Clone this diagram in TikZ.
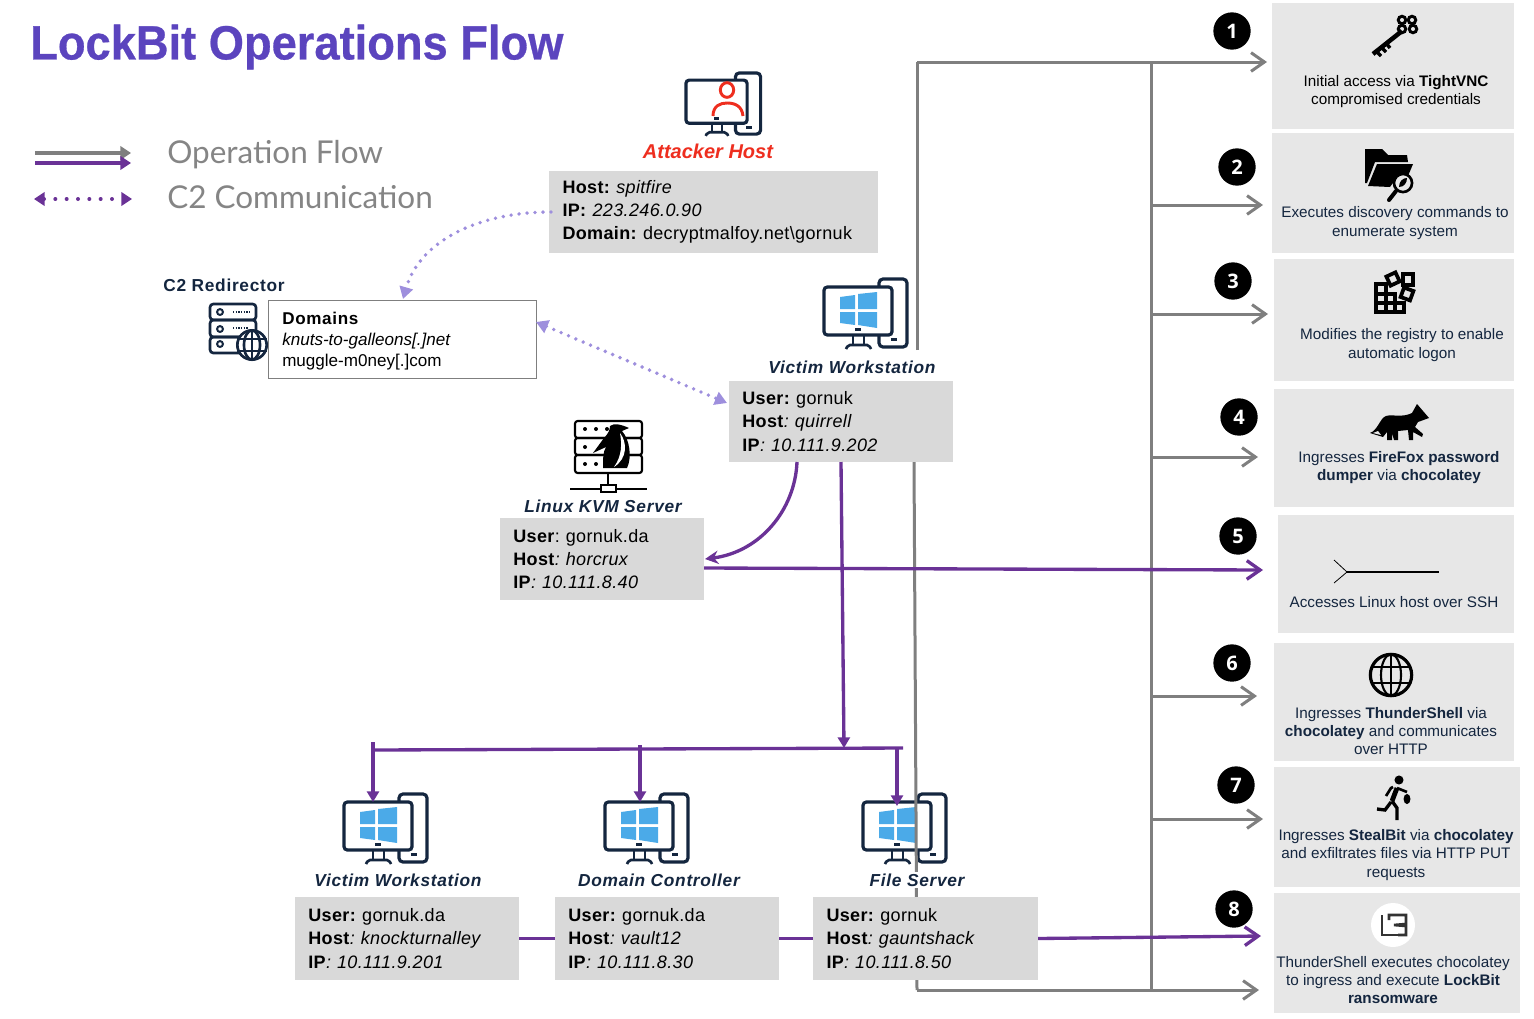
\documentclass[tikz,border=0pt]{standalone}
\usepackage{fontspec}
\usepackage{tikz}
\usetikzlibrary{arrows.meta}
\usetikzlibrary{positioning}
\setmainfont{Liberation Sans}
\newfontfamily\legendfont{Lato}
\newfontfamily\numfont{Open Sans}
\newfontfamily\infofont[LetterSpace=2]{Liberation Sans}
\newfontfamily\labelfont[LetterSpace=4]{Liberation Sans}
\newfontfamily\titlefont[BoldFeatures={FakeStretch=0.943,FakeBold=0.6}]{Liberation Sans}
\AtBeginDocument{\frenchspacing}
\definecolor{titleblue}{HTML}{5B44BE}
\definecolor{navy}{HTML}{14263F}
\definecolor{flowgray}{HTML}{7F7F7F}
\definecolor{flowpurple}{HTML}{6A3296}
\definecolor{lavender}{HTML}{9E8FDD}
\definecolor{boxgray}{HTML}{D9D9D9}
\definecolor{panelgray}{HTML}{E7E7E7}
\definecolor{winblue}{HTML}{4BAAE8}
\definecolor{hostred}{HTML}{EE2E1F}
\definecolor{legendgray}{HTML}{858585}
\tikzset{
  pcicon/.pic={
    \draw[navy, line width=2.4pt, rounded corners=3pt] (56,9) -- (56,1) -- (84,1) -- (84,69) -- (56,69) -- (56,58);
    \draw[navy, line width=2.4pt, rounded corners=2.5pt] (1,9) rectangle (69,57);
    \draw[navy, line width=2pt] (30,57) -- (30,66);
    \draw[navy, line width=2pt] (41,57) -- (41,66);
    \draw[navy, line width=2pt, rounded corners=1.5pt] (23,71) -- (25,67) -- (46,67) -- (48,71);
    \fill[navy] (32,50) rectangle (38,53);
    \fill[navy] (68,60) rectangle (74,63);
  },
  winlogo/.pic={
    \fill[winblue] (17,19) -- (32,17) -- (32,31) -- (17,31) -- cycle;
    \fill[winblue] (35,16) -- (54,14) -- (54,31) -- (35,31) -- cycle;
    \fill[winblue] (17,34) -- (32,34) -- (32,47) -- (17,45) -- cycle;
    \fill[winblue] (35,34) -- (54,34) -- (54,50) -- (35,47) -- cycle;
  }
}
\begin{document}
\begin{tikzpicture}[x=0.75pt, y=-0.75pt,
  hostlabel/.style={font=\labelfont\bfseries\itshape\fontsize{13pt}{15pt}\selectfont, text=navy, fill=white, inner sep=1pt},
  infobox/.style={fill=boxgray, align=left, inner xsep=10pt, inner ysep=0pt, font=\infofont\fontsize{13.5pt}{17.3pt}\selectfont},
  panel/.style={fill=panelgray, inner sep=0pt},
  paneltext/.style={align=center, inner sep=0pt, text=navy, font=\fontsize{11.45pt}{13.6pt}\selectfont},
  stepnum/.style={circle, fill=black, text=white, minimum size=28pt, inner sep=0pt, font=\numfont\bfseries\fontsize{15pt}{15pt}\selectfont},
  graylink/.style={draw=flowgray, line width=2.25pt},
  grayarrow/.style={graylink, -{Straight Barb[length=10pt,width=14pt]}},
  purplelink/.style={draw=flowpurple, line width=2.5pt},
  purplearrow/.style={purplelink, -{Straight Barb[length=10pt,width=14pt]}},
  purpledown/.style={purplelink, -{Triangle[length=8pt,width=9pt]}},
  dotlink/.style={draw=lavender, line width=2.9pt, line cap=round, dash pattern=on 0pt off 6pt},
  iconline/.style={draw=navy, line width=2pt}]
\useasboundingbox (0,0) rectangle (1534,1018);

\node[anchor=west, inner sep=0pt, text=titleblue, font=\titlefont\bfseries\fontsize{36pt}{40pt}\selectfont] (Title) at (30,47) {LockBit Operations Flow};

\coordinate (LegendGrayL) at (35,153);
\coordinate (LegendGrayR) at (131,153);
\coordinate (LegendPurpleL) at (35,163);
\coordinate (LegendPurpleR) at (131,163);
\coordinate (LegendDotL) at (34,199);
\coordinate (LegendDotR) at (132,199);
\draw[draw=flowgray, line width=3pt, -{Triangle[length=8pt,width=10pt]}] (LegendGrayL) -- (LegendGrayR);
\draw[draw=flowpurple, line width=3pt, -{Triangle[length=8pt,width=10pt]}] (LegendPurpleL) -- (LegendPurpleR);
\draw[draw=flowpurple, line width=3pt, line cap=round, dash pattern=on 0pt off 8.5pt, {Triangle[length=8pt,width=10pt]}-{Triangle[length=8pt,width=10pt]}] (LegendDotL) -- (LegendDotR);
\node[anchor=west, inner sep=0pt, text=legendgray, font=\legendfont\fontsize{23.6pt}{28pt}\selectfont] (LegendFlow) at (167,155) {Operation Flow};
\node[anchor=west, inner sep=0pt, text=legendgray, font=\legendfont\fontsize{23.6pt}{28pt}\selectfont] (LegendC2) at (167,197) {C2 Communication};

\node[panel, minimum width=181.5pt, minimum height=94.5pt] (Panel1) at (1393,66) {};
\node[panel, minimum width=181.5pt, minimum height=90pt] (Panel2) at (1393,193) {};
\node[panel, minimum width=180pt, minimum height=91.5pt] (Panel3) at (1394,320) {};
\node[panel, minimum width=180pt, minimum height=88.5pt] (Panel4) at (1394,448) {};
\node[panel, minimum width=177pt, minimum height=88.5pt] (Panel5) at (1396,574) {};
\node[panel, minimum width=180pt, minimum height=88.5pt] (Panel6) at (1394,702) {};
\node[panel, minimum width=184.5pt, minimum height=90pt] (Panel7) at (1397,827) {};
\node[panel, minimum width=184.5pt, minimum height=90pt] (Panel8) at (1397,953) {};

\pic (PcAttacker) [scale=0.9] at (685,72) {pcicon};
\draw[hostred, line width=2.2pt] (727,90) ellipse (5pt and 5.5pt);
\draw[hostred, line width=2.2pt] (713,116) .. controls (713,106) and (720,103) .. (727,103) .. controls (735,103) and (742,106) .. (743,116);
\pic (PcVictim) at (823,278) {pcicon};
\pic (LogoVictim) at (823,278) {winlogo};
\pic (PcVictimB) at (343,793) {pcicon};
\pic (LogoVictimB) at (343,793) {winlogo};
\pic (PcController) at (604,793) {pcicon};
\pic (LogoController) at (604,793) {winlogo};
\pic (PcFile) at (862,793) {pcicon};
\pic (LogoFile) at (862,793) {winlogo};

\draw[iconline, rounded corners=2.5pt] (210,304) rectangle (256,320);
\draw[iconline, rounded corners=2.5pt] (210,320) rectangle (256,337);
\draw[iconline, rounded corners=2.5pt] (210,337) rectangle (256,353);
\draw[navy, line width=1.5pt] (220,312) circle (2.2pt);
\draw[navy, line width=1.5pt] (220,329) circle (2.2pt);
\draw[navy, line width=1.5pt] (220,344) circle (2.2pt);
\draw[navy, line width=1.1pt, dash pattern=on 1pt off 1pt] (233,312) -- (251,312);
\draw[navy, line width=1.1pt, dash pattern=on 1pt off 1pt] (233,328) -- (249,328);
\draw[iconline, fill=white] (252,345) circle (11pt);
\draw[iconline] (252,345) ellipse (6pt and 11pt);
\draw[iconline] (252,330) -- (252,360);
\draw[iconline] (237,339) -- (267,339);
\draw[iconline] (237,351) -- (267,351);

\draw[draw=black, line width=1.6pt, rounded corners=2pt] (575,421) rectangle (642,438);
\draw[draw=black, line width=1.6pt, rounded corners=2pt] (575,438) rectangle (642,455);
\draw[draw=black, line width=1.6pt, rounded corners=2pt] (575,455) rectangle (642,473);
\fill[black] (585,429) circle (1.5pt);
\fill[black] (596,429) circle (1.5pt);
\fill[black] (607,429) circle (1.5pt);
\fill[black] (585,447) circle (1.5pt);
\fill[black] (585,464) circle (1.5pt);
\fill[black] (596,464) circle (1.5pt);
\draw[draw=black, line width=1.6pt] (608,473) -- (608,484);
\draw[draw=black, line width=1.6pt] (570,489) -- (647,489);
\draw[draw=black, line width=1.6pt, fill=white] (601,485) rectangle (616,492);
\fill[black] (610,426) .. controls (614,423) and (620,424) .. (629,428) -- (622,431) .. controls (630,440) and (632,458) .. (627,468) -- (603,468) .. controls (603,458) and (603,452) .. (606,447) -- (593,453) -- (604,438) .. controls (608,434) and (610,430) .. (610,426) -- cycle;
\fill[white] (620,433) .. controls (627,442) and (628,458) .. (614,467) .. controls (622,456) and (622,444) .. (620,433) -- cycle;

\fill[black] (1402,20) circle (4pt);
\fill[black] (1412,20) circle (4pt);
\fill[black] (1402,29) circle (4pt);
\fill[black] (1413,29) circle (4pt);
\fill[panelgray] (1402,20) circle (1.5pt);
\fill[panelgray] (1412,20) circle (1.5pt);
\fill[panelgray] (1402,29) circle (1.5pt);
\fill[panelgray] (1413,29) circle (1.5pt);
\draw[draw=black, line width=3.4pt] (1402,31) -- (1373,54);
\draw[draw=black, line width=2.6pt] (1376,51) -- (1381,56);
\draw[draw=black, line width=2.6pt] (1381,47) -- (1386,52);
\draw[draw=black, line width=2.6pt] (1386,43) -- (1390,48);

\fill[black] (1365,149) -- (1382,149) -- (1388,155) -- (1407,155) -- (1408,162) -- (1375,162) -- (1367,183) -- (1365,183) -- cycle;
\fill[black] (1377,164) -- (1413,164) -- (1408,176) -- (1395,180) -- (1390,187) -- (1368,186) -- cycle;
\draw[draw=black, line width=2pt, fill=panelgray] (1403,183) circle (6.8pt);
\fill[black] (1399,187) .. controls (1399,181) and (1403,178) .. (1407,178) .. controls (1407,183) and (1404,187) .. (1399,187) -- cycle;
\draw[draw=black, line width=3pt, line cap=round] (1396,191) -- (1389,200);

\draw[draw=black, line width=2.8pt] (1376,284) rectangle (1386,294);
\draw[draw=black, line width=2.8pt] (1376,294) rectangle (1386,303);
\draw[draw=black, line width=2.8pt] (1386,294) rectangle (1395,303);
\draw[draw=black, line width=2.8pt] (1376,303) rectangle (1386,312);
\draw[draw=black, line width=2.8pt] (1386,303) rectangle (1395,312);
\draw[draw=black, line width=2.8pt] (1395,303) rectangle (1404,312);
\draw[draw=black, line width=2.8pt, rotate around={25:(1393,279)}] (1388,274) rectangle (1398,284);
\draw[draw=black, line width=2.8pt] (1403,274) rectangle (1413,285);
\draw[draw=black, line width=2.8pt, rotate around={-20:(1407,294)}] (1402,289) rectangle (1412,299);

\fill[black] (1429,418) -- (1417,404) -- (1412,413) .. controls (1402,418) and (1392,414) .. (1386,416) .. controls (1380,418) and (1378,430) .. (1370,433) -- (1383,437) -- (1387,432) -- (1387,440) -- (1392,440) -- (1392,433) -- (1394,440) -- (1398,440) -- (1398,431) -- (1408,430) -- (1409,440) -- (1413,440) -- (1413,432) -- (1422,437) -- (1423,434) -- (1415,427) -- (1418,422) -- cycle;
\fill[panelgray] (1373,433) -- (1381,435) -- (1378,431) -- cycle;

\draw[draw=black, line width=0.6pt] (1334,560) -- (1347,572) -- (1334,583);
\draw[draw=black, line width=1.3pt] (1347,572) -- (1439,572);

\draw[draw=black, line width=2.4pt] (1391,675) circle (15.5pt);
\draw[draw=black, line width=1.6pt] (1391,675) ellipse (7.5pt and 15.5pt);
\draw[draw=black, line width=1.6pt] (1391,654) -- (1391,696);
\draw[draw=black, line width=1.6pt] (1372,667) -- (1410,667);
\draw[draw=black, line width=1.6pt] (1372,683) -- (1410,683);

\fill[black] (1399,780) circle (3.4pt);
\draw[draw=black, line width=3.6pt] (1397,788) -- (1392,801);
\draw[draw=black, line width=2pt] (1397,788) -- (1407,792);
\draw[draw=black, line width=2pt] (1393,787) -- (1391,788) -- (1386,796);
\draw[draw=black, line width=2.5pt] (1392,801) -- (1397,808) -- (1397,820);
\draw[draw=black, line width=2.5pt] (1391,802) -- (1385,810) -- (1377,809);
\fill[black] (1407,799) ellipse (2.6pt and 3.8pt);

\fill[white] (1393,925) circle (16.5pt);
\draw[draw=black!80, line width=2pt] (1382,915) -- (1382,935) -- (1398,935);
\draw[draw=black!80, line width=2pt] (1389,920) -- (1389,915) -- (1406,915) -- (1406,924) -- (1394,925) -- (1406,926) -- (1406,935) -- (1398,935);

\node[paneltext, text=black] (Text1) at (1396,91.5) {Initial access via \textbf{TightVNC}\\compromised credentials};
\node[paneltext] (Text2) at (1395,223) {Executes discovery commands to\\enumerate system};
\node[paneltext] (Text3) at (1402,345) {Modifies the registry to enable\\automatic logon};
\node[paneltext] (Text4) at (1399,467.5) {Ingresses \textbf{FireFox password}\\\textbf{dumper} via \textbf{chocolatey}};
\node[paneltext] (Text5) at (1394,602) {Accesses Linux host over SSH};
\node[paneltext] (Text6) at (1391,731) {Ingresses \textbf{ThunderShell} via\\\textbf{chocolatey} and communicates\\over HTTP};
\node[paneltext] (Text7) at (1396,855) {Ingresses \textbf{StealBit} via \textbf{chocolatey}\\and exfiltrates files via HTTP PUT\\requests};
\node[paneltext] (Text8) at (1393,980) {ThunderShell executes chocolatey\\to ingress and execute \textbf{LockBit}\\\textbf{ransomware}};

\node[stepnum] (Step1) at (1232,31) {1};
\node[stepnum] (Step2) at (1237,167) {2};
\node[stepnum] (Step3) at (1233,281) {3};
\node[stepnum] (Step4) at (1239,417) {4};
\node[stepnum] (Step5) at (1238,536) {5};
\node[stepnum] (Step6) at (1232,663) {6};
\node[stepnum] (Step7) at (1236,785) {7};
\node[stepnum] (Step8) at (1234,909) {8};

\coordinate (GrayTop) at (917,62);
\coordinate (GrayTopEnd) at (917,350);
\coordinate (GrayLowStart) at (914,462);
\coordinate (GrayBottom) at (917,990);
\coordinate (TrunkTop) at (1151,62);
\coordinate (TrunkBottom) at (1151,990);
\coordinate (Tip1) at (1267,62);
\coordinate (Tip2) at (1263,205);
\coordinate (Tip3) at (1268,314);
\coordinate (Tip4) at (1258,457);
\coordinate (Tip5) at (1263,570);
\coordinate (Tip6) at (1257,696);
\coordinate (Tip7) at (1263,819);
\coordinate (Tip8) at (1261,936);
\coordinate (TipEnd) at (1259,990);
\draw[graylink] (GrayTopEnd) -- (GrayTop);
\draw[grayarrow] (GrayTop) -- (Tip1);
\draw[graylink] (GrayLowStart) -- (GrayBottom);
\draw[grayarrow] (GrayBottom) -- (TipEnd);
\draw[graylink] (TrunkTop) -- (TrunkBottom);
\draw[grayarrow] (TrunkTop |- Tip2) -- (Tip2);
\draw[grayarrow] (TrunkTop |- Tip3) -- (Tip3);
\draw[grayarrow] (TrunkTop |- Tip4) -- (Tip4);
\draw[grayarrow] (TrunkTop |- Tip6) -- (Tip6);
\draw[grayarrow] (TrunkTop |- Tip7) -- (Tip7);

\node[hostlabel, text=hostred, font=\bfseries\itshape\fontsize{15pt}{17pt}\selectfont] (LabelAttacker) at (708,151) {Attacker Host};
\node[hostlabel] (LabelVictim) at (852,367) {Victim Workstation};
\node[hostlabel] (LabelLinux) at (603,506) {Linux KVM Server};
\node[hostlabel] (LabelVictimB) at (398,880) {Victim Workstation};
\node[hostlabel] (LabelController) at (659,880) {Domain Controller};
\node[hostlabel] (LabelFile) at (917,880) {File Server};
\node[inner sep=1pt, text=navy, font=\labelfont\bfseries\fontsize{13pt}{15pt}\selectfont] (LabelRedirector) at (224,285) {C2 Redirector};

\node[infobox, text width=226.5pt, minimum height=61.5pt] (AttackerBox) at (713.5,212) {\raisebox{0pt}{\textbf{Host:} \textit{spitfire}}\\\textbf{IP:} \textit{223.246.0.90}\\\textbf{Domain:} decryptmalfoy.net\textbackslash gornuk};
\node[infobox, text width=148pt, minimum height=61pt] (VictimBox) at (841,421.5) {\textbf{User:} gornuk\\\textbf{Host}\textit{: quirrell}\\\textbf{IP}\textit{: 10.111.9.202}};
\node[infobox, text width=133pt, minimum height=61.5pt] (LinuxBox) at (602,559) {\textbf{User}: gornuk.da\\\textbf{Host}\textit{: horcrux}\\\textbf{IP}\textit{: 10.111.8.40}};
\node[infobox, text width=148pt, minimum height=62pt] (VictimBoxB) at (407,938.5) {\textbf{User:} gornuk.da\\\textbf{Host}\textit{: knockturnalley}\\\textbf{IP}\textit{: 10.111.9.201}};
\node[infobox, text width=148pt, minimum height=62pt] (ControllerBox) at (667,938.5) {\textbf{User:} gornuk.da\\\textbf{Host}\textit{: vault12}\\\textbf{IP}\textit{: 10.111.8.30}};
\node[infobox, text width=148.5pt, minimum height=62pt] (FileBox) at (925.5,938.5) {\textbf{User:} gornuk\\\textbf{Host}\textit{: gauntshack}\\\textbf{IP}\textit{: 10.111.8.50}};
\node[draw=flowgray, line width=0.6pt, fill=white, inner sep=0pt, minimum width=201pt, minimum height=59pt] (DomainBox) at (402,339.5) {};
\node[align=left, inner sep=0pt, anchor=west, font=\fontsize{12.8pt}{16pt}\selectfont] (DomainText) at (282,341) {{\labelfont\bfseries Domains}\\\textit{knuts-to-galleons[.]net}\\muggle-m0ney[.]com};

\coordinate (VictimCurve) at (797,462);
\coordinate (LinuxCurve) at (705,559);
\coordinate (LinuxOut) at (704,568);
\coordinate (VictimDown) at (841,462);
\coordinate (BusDrop) at (844,748);
\coordinate (BusLeft) at (373,750);
\coordinate (BusRight) at (903,748);
\coordinate (DropLeftTop) at (373,742);
\coordinate (DropLeft) at (373,802);
\coordinate (DropMidTop) at (640,745);
\coordinate (DropMid) at (640,802);
\coordinate (DropRightTop) at (897,748);
\coordinate (DropRight) at (897,806);
\draw[purplelink, -{Stealth[length=10pt,width=10pt]}] (VictimCurve) .. controls (795,510) and (760,552) .. (LinuxCurve);
\draw[purplearrow] (LinuxOut) -- (Tip5);
\draw[purpledown] (VictimDown) -- (BusDrop);
\draw[purplelink] (BusLeft) -- (BusRight);
\draw[purpledown] (DropLeftTop) -- (DropLeft);
\draw[purpledown] (DropMidTop) -- (DropMid);
\draw[purpledown] (DropRightTop) -- (DropRight);
\draw[purplelink] (VictimBoxB.east) -- (ControllerBox.west);
\draw[purplelink] (ControllerBox.east) -- (FileBox.west);
\draw[purplearrow] (FileBox.east) -- (Tip8);

\coordinate (AttackerDot) at (551,212);
\coordinate (RedirectorTip) at (403,299);
\coordinate (DomainDot) at (536,322);
\coordinate (VictimDot) at (727,403);
\draw[dotlink, -{Triangle[length=9pt,width=10pt]}] (AttackerDot) .. controls (480,212) and (420,240) .. (RedirectorTip);
\draw[dotlink, {Triangle[length=9pt,width=10pt]}-{Triangle[length=9pt,width=10pt]}] (DomainDot) -- (VictimDot);
\end{tikzpicture}
\end{document}
